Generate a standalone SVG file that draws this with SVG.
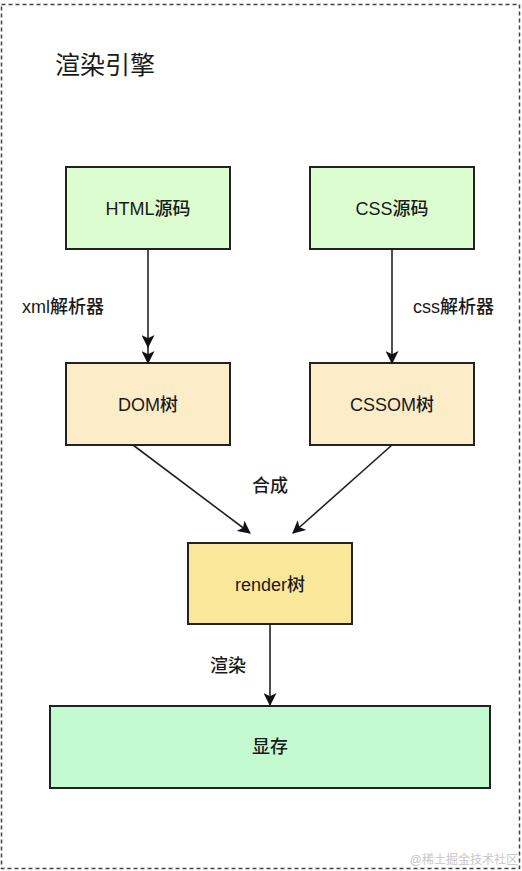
<svg xmlns="http://www.w3.org/2000/svg" width="522" height="871" viewBox="0 0 522 871">
<defs>
<marker id="arr" viewBox="0 0 12 12" refX="11" refY="6" markerWidth="13" markerHeight="13" markerUnits="userSpaceOnUse" orient="auto">
<path d="M0,0 L12,6 L0,12 L3,6 z" fill="#111"/>
</marker>
<style>
text{font-family:"Liberation Sans","Noto Sans CJK SC",sans-serif;fill:#1a1a1a}
.box{stroke:#222;stroke-width:2}
.lbl{font-size:18px;text-anchor:middle;dominant-baseline:central;font-weight:500}
.edge{font-size:18px;font-weight:500}
.conn{stroke:#222;stroke-width:1.6;fill:none}
</style>
</defs>
<rect width="522" height="871" fill="#fff"/>
<rect x="1.5" y="4.5" width="518" height="864" fill="none" stroke="#444" stroke-width="1.5" stroke-dasharray="4,3"/>
<text x="55" y="74" font-size="25">渲染引擎</text>
<g id="html"><rect class="box" x="66" y="167" width="164" height="82" fill="#dcfdd0"/><text class="lbl" x="148" y="209">HTML源码</text></g>
<g id="css"><rect class="box" x="310" y="167" width="164" height="82" fill="#dcfdd0"/><text class="lbl" x="392" y="209">CSS源码</text></g>
<g id="dom"><rect class="box" x="66" y="363" width="164" height="82" fill="#fcecc8"/><text class="lbl" x="148" y="405">DOM树</text></g>
<g id="cssom"><rect class="box" x="310" y="363" width="164" height="82" fill="#fcecc8"/><text class="lbl" x="392" y="405">CSSOM树</text></g>
<g id="render"><rect class="box" x="188" y="543" width="164" height="81" fill="#fae79a"/><text class="lbl" x="270" y="585">render树</text></g>
<g id="vram"><rect class="box" x="50" y="706" width="440" height="82" fill="#c4fad0"/><text class="lbl" x="270" y="747">显存</text></g>
<g id="connectors">
<path class="conn" d="M148 249 L148 347 L148 363" marker-mid="url(#arr)" marker-end="url(#arr)"/>
<path class="conn" d="M392 249 L392 363" marker-end="url(#arr)"/>
<path class="conn" d="M133 445 L250 533" marker-end="url(#arr)"/>
<path class="conn" d="M392 445 L293 533" marker-end="url(#arr)"/>
<path class="conn" d="M270 624 L270 705" marker-end="url(#arr)"/>
<text class="edge" x="22" y="313">xml解析器</text>
<text class="edge" x="413" y="313">css解析器</text>
<text class="edge" x="252" y="492">合成</text>
<text class="edge" x="210" y="672">渲染</text>
</g>
<text x="518" y="864" font-size="12" text-anchor="end" style="fill:#c8c8c8">@稀土掘金技术社区</text>
</svg>
